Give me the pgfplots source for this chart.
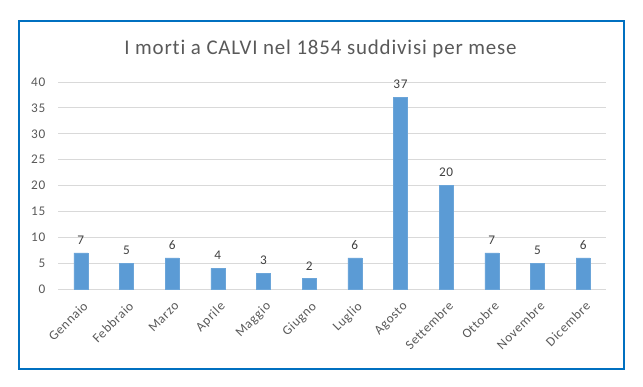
\documentclass[border=0pt]{standalone}
\usepackage{fontspec}
\setmainfont{Carlito}
\newfontfamily\lsfont[LetterSpace=5,Ligatures=NoCommon]{Carlito}
\newfontfamily\tfont[LetterSpace=4,Ligatures=NoCommon]{Carlito}
\usepackage{pgfplots}
\pgfplotsset{compat=1.18}
\definecolor{barblue}{HTML}{5B9BD5}
\definecolor{txtgray}{HTML}{595959}
\definecolor{lblgray}{HTML}{404040}
\definecolor{gridgray}{HTML}{D9D9D9}
\definecolor{frameblue}{HTML}{0070C0}
\begin{document}
\begin{tikzpicture}[x=1bp,y=1bp]
\path[use as bounding box] (0,0) rectangle (643,386);
\draw[frameblue, line width=2bp] (19,17) rectangle (623.5,365);
\node[text=txtgray, font=\tfont\fontsize{21}{23}\selectfont] at (320.5,337) {I morti a CALVI nel 1854 suddivisi per mese};
\begin{axis}[
  at={(58bp,97bp)}, anchor=south west,
  scale only axis, width=548bp, height=207bp,
  xmin=-0.5, xmax=11.5, ymin=0, ymax=40,
  ybar, bar width=14bp,
  xtick={0,...,11},
  xticklabels={Gennaio,Febbraio,Marzo,Aprile,Maggio,Giugno,Luglio,Agosto,Settembre,Ottobre,Novembre,Dicembre},
  xticklabel style={rotate=45, anchor=north east, text=txtgray, font=\lsfont\fontsize{13.3}{15}\selectfont, inner sep=1bp, xshift=-3bp, yshift=-5bp},
  major x tick style={draw=none},
  extra x ticks={-0.5,0.5,...,11.5},
  extra x tick labels={},
  extra x tick style={major tick length=4bp, tick style={draw=gridgray, line width=0.75bp}, tick align=outside, grid=none},
  ytick={0,5,...,40},
  ymajorgrids, grid style={draw=gridgray, line width=0.75bp},
  yticklabel style={text=txtgray, font=\lsfont\fontsize{13.3}{15}\selectfont},
  /pgf/number format/assume math mode=true,
  axis lines*=left,
  y axis line style={draw=none},
  x axis line style={draw=gridgray, line width=0.75bp, -},
  ytick style={draw=none},
  y tick label style={xshift=-5bp},
  nodes near coords,
  every node near coord/.append style={text=lblgray, font=\lsfont\fontsize{13.3}{15}\selectfont, yshift=5bp},
  tick align=outside,
]
\addplot[fill=barblue, draw=barblue!90!white, bar shift=0pt] coordinates {
 (0,7) (1,5) (2,6) (3,4) (4,3) (5,2) (6,6) (7,37) (8,20) (9,7) (10,5) (11,6)};
\end{axis}
\end{tikzpicture}
\end{document}
